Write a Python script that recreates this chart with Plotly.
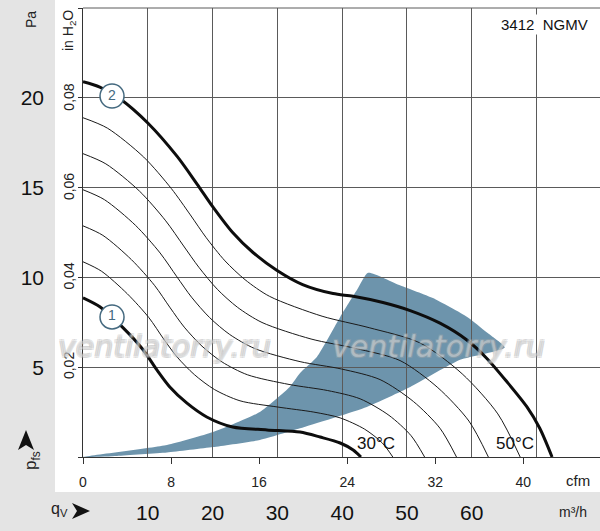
import plotly.graph_objects as go

# fan curves: flow in m³/h, static pressure in Pa
q_curve1 = [0, 2.6, 6.2, 9.3, 11.4, 13.4, 16.0, 19.1, 23.1, 28.4, 33.5, 36.6, 39.7, 41.7, 42.9]
p_curve1 = [8.86, 8.36, 7.19, 5.96, 4.85, 3.90, 3.01, 2.23, 1.67, 1.51, 1.39, 1.11, 0.78, 0.39, 0]

q_curve2 = [0, 2.6, 5.7, 10.0, 14.5, 17.6, 20.1, 23.1, 26.2, 29.9, 33.9, 38.6, 41.7, 46.3,
            50.5, 55.1, 59.3, 62.3, 65.4, 68.5, 70.5, 72.4]
p_curve2 = [20.9, 20.6, 19.95, 18.6, 16.75, 15.2, 13.9, 12.5, 11.4, 10.4, 9.6, 9.1, 8.95, 8.6,
            8.15, 7.45, 6.5, 5.5, 4.2, 2.8, 1.6, 0]

# intermediate (thin) curves, lowest to highest
q_thin = [
    [0, 2.83, 6.83, 10.17, 12.43, 14.52, 17.18, 20.28, 24.23, 30.1, 35.63, 39.68, 43.47, 46.17, 47.82],
    [0, 3.07, 7.47, 11.03, 13.47, 15.63, 18.37, 21.47, 25.37, 31.8, 37.77, 42.77, 47.23, 50.63, 52.73],
    [0, 3.3, 8.1, 11.9, 14.5, 16.75, 19.55, 22.65, 26.5, 33.5, 39.9, 45.85, 51.0, 55.1, 57.65],
    [0, 3.53, 8.73, 12.77, 15.53, 17.87, 20.73, 23.83, 27.63, 35.2, 42.03, 48.93, 54.77, 59.57, 62.57],
    [0, 3.77, 9.37, 13.63, 16.57, 18.98, 21.92, 25.02, 28.77, 36.9, 44.17, 52.02, 58.53, 64.03, 67.48],
]
p_thin = [
    [10.87, 10.35, 9.09, 7.76, 6.58, 5.57, 4.59, 3.76, 3.13, 2.78, 2.5, 2.18, 1.55, 0.79, 0],
    [12.87, 12.34, 10.99, 9.56, 8.3, 7.23, 6.17, 5.29, 4.58, 4.04, 3.7, 3.24, 2.32, 1.19, 0],
    [14.88, 14.33, 12.9, 11.36, 10.03, 8.9, 7.76, 6.82, 6.04, 5.31, 4.9, 4.31, 3.09, 1.6, 0],
    [16.89, 16.32, 14.8, 13.15, 11.75, 10.57, 9.34, 8.34, 7.49, 6.57, 6.05, 5.37, 3.86, 2.0, 0],
    [18.89, 18.31, 16.7, 14.95, 13.48, 12.23, 10.92, 9.87, 8.95, 7.84, 7.2, 6.35, 4.63, 2.4, 0],
]

# recommended operating area (shaded)
q_area = [0, 12.96, 20.06, 27.3, 31.9, 33.5, 36.1, 39.7, 42.3, 44.0, 49.0, 54.0, 59.3, 62.3,
          65.1, 58.2, 50.5, 43.8, 33.5, 27.3, 20.06, 12.96, 5.25, 0]
p_area = [0, 0.67, 1.39, 2.51, 3.90, 4.68, 5.57, 7.80, 9.31, 10.26, 9.55, 8.85, 7.8, 6.95,
          6.1, 5.41, 3.90, 2.79, 1.6, 0.95, 0.55, 0.25, 0.06, 0]

# curve number badges
badge_q = [4.48, 4.48]
badge_p = [7.8, 20.1]
badge_text = ['1', '2']

# axis ticks
m3h_ticks = [10, 20, 30, 40, 50, 60]
pa_ticks = [5, 10, 15, 20]
cfm_ticks = [0, 8, 16, 24, 32, 40]
inh2o_ticks = [0.02, 0.04, 0.06, 0.08]
inh2o_text = ['0,02', '0,04', '0,06', '0,08']

Q_MAX = 79.8
P_MAX = 25
M3H_PER_CFM = 1.699
PA_PER_INH2O = 249.089

GREY = '#e4e4e4'
GRID = '#5a5a5a'
BLUE = '#6d94ac'
BADGE = '#44697f'
FONT = 'Liberation Sans, Arial'

fig = go.Figure()

fig.add_trace(go.Scatter(x=q_area, y=p_area, mode='lines', fill='toself', fillcolor=BLUE,
                         line=dict(width=0, color=BLUE, shape='spline', smoothing=0.5),
                         hoverinfo='skip', xaxis='x', yaxis='y'))
# invisible anchors so the secondary scales (cfm, in H2O) get drawn
fig.add_trace(go.Scatter(x=[0], y=[0], mode='markers', marker=dict(opacity=0),
                         hoverinfo='skip', xaxis='x2', yaxis='y'))
fig.add_trace(go.Scatter(x=[0], y=[0], mode='markers', marker=dict(opacity=0),
                         hoverinfo='skip', xaxis='x', yaxis='y2'))

for qs, ps in zip(q_thin, p_thin):
    fig.add_trace(go.Scatter(x=qs, y=ps, mode='lines',
                             line=dict(color='#1a1a1a', width=1, shape='spline', smoothing=0.8),
                             xaxis='x3', yaxis='y3'))

for qs, ps in [(q_curve1, p_curve1), (q_curve2, p_curve2)]:
    fig.add_trace(go.Scatter(x=qs, y=ps, mode='lines',
                             line=dict(color='#0d0d0d', width=3, shape='spline', smoothing=0.8),
                             xaxis='x3', yaxis='y3'))

fig.add_trace(go.Scatter(x=badge_q, y=badge_p, mode='markers+text', text=badge_text,
                         textposition='middle center',
                         textfont=dict(family=FONT, size=14, color=BADGE),
                         marker=dict(size=24, color='white', line=dict(color=BADGE, width=1.5)),
                         xaxis='x3', yaxis='y3'))


def px(x):
    return (x - 83) / 517


def py(y):
    return (457 - y) / 449


annotations = [
    dict(x=px(31), y=py(20), text='Pa', textangle=-90, font=dict(family=FONT, size=14, color='#222')),
    dict(x=px(69), y=py(31), text='in H<sub>2</sub>O', textangle=-90,
         font=dict(family=FONT, size=14, color='#222')),
    dict(x=px(544), y=py(25), text='3412  NGMV', bgcolor='white', borderpad=1,
         font=dict(family=FONT, size=15, color='#111')),
    dict(x=px(376), y=py(443), text='30°C', font=dict(family=FONT, size=17, color='#111')),
    dict(x=px(515), y=py(443), text='50°C', font=dict(family=FONT, size=17, color='#111')),
    dict(x=px(578), y=py(480), text='cfm', font=dict(family=FONT, size=15, color='#222')),
    dict(x=px(573), y=py(512), text='m³/h', font=dict(family=FONT, size=14, color='#222')),
    dict(x=px(59), y=py(510), text='q<sub>V</sub>', font=dict(family=FONT, size=16, color='#222')),
    dict(x=px(32), y=py(461), text='p<sub>fs</sub>', textangle=-90,
         font=dict(family=FONT, size=17, color='#222')),
]
wm_font = dict(family='DejaVu Sans', size=30, color='rgba(255,255,255,0.3)', style='italic',
               shadow='-1px -1px 0 #aaa, 1px -1px 0 #aaa, -1px 1px 0 #aaa, 1px 1px 0 #aaa')
for wx in [164, 438]:
    annotations.append(dict(x=px(wx), y=py(346), text='ventilatorry.ru', font=wm_font))
for a in annotations:
    a.update(xref='paper', yref='paper', showarrow=False, xanchor='center', yanchor='middle')

shapes = [
    # white chart panel on the grey frame
    dict(type='rect', xref='paper', yref='paper', x0=px(55), x1=1.01, y0=py(492), y1=py(-5),
         fillcolor='white', line=dict(width=0), layer='below'),
    # top border of the chart
    dict(type='line', xref='paper', yref='paper', x0=0, x1=1, y0=1, y1=1,
         line=dict(color=GRID, width=1)),
    # arrowheads next to the axis symbols
    dict(type='path', xref='paper', yref='paper', fillcolor='#111', line=dict(width=0),
         path=f'M {px(90)},{py(511)} L {px(72)},{py(503)} L {px(77)},{py(511)} L {px(72)},{py(519)} Z'),
    dict(type='path', xref='paper', yref='paper', fillcolor='#111', line=dict(width=0),
         path=f'M {px(26)},{py(430)} L {px(18)},{py(450)} L {px(26)},{py(445)} L {px(34)},{py(450)} Z'),
]

fig.update_layout(
    width=600, height=531,
    margin=dict(l=83, r=0, t=8, b=74),
    paper_bgcolor=GREY, plot_bgcolor='rgba(0,0,0,0)',
    showlegend=False,
    annotations=annotations,
    shapes=shapes,
    xaxis=dict(domain=[0, 1], anchor='y', range=[0, Q_MAX], tickvals=m3h_ticks,
               showgrid=False, zeroline=False, showline=False, ticks='', automargin=False,
               tickfont=dict(family=FONT, size=21, color='#111'), ticklabelstandoff=41),
    yaxis=dict(domain=[0, 1], anchor='x', range=[0, P_MAX], tickvals=pa_ticks,
               showgrid=False, zeroline=False, showline=False, ticks='', automargin=False,
               tickfont=dict(family=FONT, size=21, color='#111'), ticklabelstandoff=38),
    xaxis2=dict(overlaying='x', anchor='y', side='bottom', range=[0, Q_MAX / M3H_PER_CFM],
                tickvals=cfm_ticks, showgrid=False, zeroline=False, showline=True,
                linecolor='#333', linewidth=1, ticks='outside', ticklen=6, tickcolor='#333',
                automargin=False,
                tickfont=dict(family=FONT, size=14, color='#222'), ticklabelstandoff=6),
    yaxis2=dict(overlaying='y', anchor='x', side='left', range=[0, P_MAX / PA_PER_INH2O],
                tickvals=inh2o_ticks, ticktext=inh2o_text, tickangle=-90,
                showgrid=False, zeroline=False, showline=True, linecolor='#333', linewidth=1,
                ticks='', automargin=False,
                tickfont=dict(family=FONT, size=14, color='#222'), ticklabelstandoff=2),
    xaxis3=dict(domain=[0, 1], anchor='y3', range=[0, Q_MAX], dtick=10, tick0=0,
                showgrid=True, gridcolor=GRID, gridwidth=1, zeroline=False, automargin=False,
                showticklabels=False, ticks=''),
    yaxis3=dict(domain=[0, 1], anchor='x3', range=[0, P_MAX], dtick=5, tick0=0,
                showgrid=True, gridcolor=GRID, gridwidth=1, zeroline=False, automargin=False,
                showticklabels=False, ticks='outside', ticklen=4, tickcolor='#333'),
)

# the page's default 8px body margin would push the figure off the window
fig.write_html('out.html', config={'displayModeBar': False},
               post_script="document.body.style.margin='0';")
